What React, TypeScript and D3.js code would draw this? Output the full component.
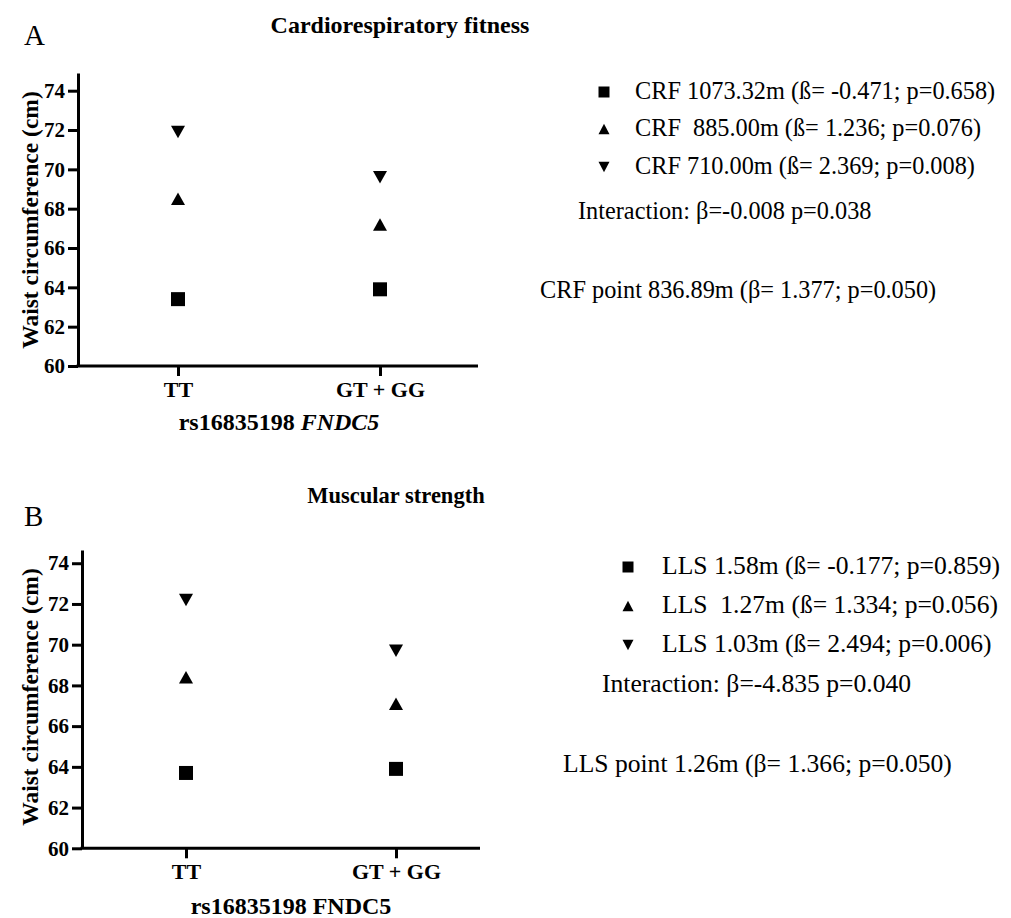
import React, { useEffect, useRef } from 'react'
import * as d3 from 'd3'

const width = 1011
const height = 918

const genotypes = ['TT', 'GT + GG']
const yTicks = [60, 62, 64, 66, 68, 70, 72, 74]
const shapes = ['square', 'up', 'down']

// panel A - cardiorespiratory fitness
const crfSquare = [63.4, 63.9]
const crfUp = [68.5, 67.2]
const crfDown = [71.9, 69.6]
const crfLegend = [
  'CRF 1073.32m (ß= -0.471; p=0.658)',
  'CRF  885.00m (ß= 1.236; p=0.076)',
  'CRF 710.00m (ß= 2.369; p=0.008)',
]
const crfInteraction = 'Interaction: β=-0.008 p=0.038'
const crfPoint = 'CRF point 836.89m (β= 1.377; p=0.050)'

// panel B - muscular strength
const llsSquare = [63.7, 63.9]
const llsUp = [68.4, 67.1]
const llsDown = [72.2, 69.7]
const llsLegend = [
  'LLS 1.58m (ß= -0.177; p=0.859)',
  'LLS  1.27m (ß= 1.334; p=0.056)',
  'LLS 1.03m (ß= 2.494; p=0.006)',
]
const llsInteraction = 'Interaction: β=-4.835 p=0.040'
const llsPoint = 'LLS point 1.26m (β= 1.366; p=0.050)'

const serif = '"Liberation Serif", "Times New Roman", serif'

const markerPath = (shape, w, h) => {
  const p = d3.path()
  const a = w / 2
  const b = h / 2
  if (shape === 'square') {
    p.rect(-a, -a, w, w)
  } else if (shape === 'up') {
    p.moveTo(0, -b); p.lineTo(a, b); p.lineTo(-a, b); p.closePath()
  } else {
    p.moveTo(-a, -b); p.lineTo(a, -b); p.lineTo(0, b); p.closePath()
  }
  return p.toString()
}

const Panel = ({ cfg }) => {
  const ref = useRef(null)

  useEffect(() => {
    const g = d3.select(ref.current)
    g.selectAll('*').remove()

    const yScale = d3.scaleLinear().domain([60, cfg.yMax]).range([cfg.y0, cfg.yTop])
    const xScale = d3.scalePoint().domain(genotypes).range([cfg.xTT, cfg.xGG])

    // y axis
    const yAxis = g.append('g')
      .attr('transform', `translate(${cfg.axisX},0)`)
      .call(d3.axisLeft(yScale).tickValues(yTicks).tickSize(10).tickPadding(3).tickSizeOuter(0))
    yAxis.select('.domain').attr('stroke-width', 3)
    yAxis.selectAll('.tick line').attr('stroke-width', 3)
    yAxis.selectAll('.tick text')
      .attr('font-family', serif).attr('font-weight', 'bold').attr('font-size', 21)
      .attr('fill', '#000')

    // x axis
    const xAxis = g.append('g')
      .attr('transform', `translate(0,${cfg.y0})`)
      .call(d3.axisBottom(xScale).tickSize(10).tickPadding(5).tickSizeOuter(0))
    xAxis.select('.domain').remove()
    xAxis.append('line')
      .attr('x1', cfg.axisX - 1.5).attr('x2', cfg.xRight)
      .attr('stroke', '#000').attr('stroke-width', 3)
    xAxis.selectAll('.tick line').attr('stroke-width', 3)
    xAxis.selectAll('.tick text')
      .attr('font-family', serif).attr('font-weight', 'bold').attr('font-size', 22)
      .attr('fill', '#000')

    // axis titles
    g.append('text')
      .attr('transform', `translate(${cfg.yTitleX},${(cfg.yTitleY)}) rotate(-90)`)
      .attr('text-anchor', 'middle').attr('dominant-baseline', 'central')
      .attr('font-family', serif).attr('font-weight', 'bold').attr('font-size', 23.5)
      .text('Waist circumference (cm)')

    const xt = g.append('text')
      .attr('x', (cfg.xTT + cfg.xGG) / 2).attr('y', cfg.xTitleY)
      .attr('text-anchor', 'middle')
      .attr('font-family', serif).attr('font-weight', 'bold').attr('font-size', 24)
    xt.append('tspan').text('rs16835198 ')
    xt.append('tspan').attr('font-style', cfg.italicGene ? 'italic' : 'normal').text('FNDC5')

    // markers
    cfg.series.forEach((vals, si) => {
      g.selectAll(null)
        .data(vals)
        .join('path')
        .attr('transform', (d, i) => `translate(${xScale(genotypes[i])},${yScale(d)})`)
        .attr('d', markerPath(shapes[si], 14, 12.5))
        .attr('fill', '#000')
    })

    // titles
    g.append('text')
      .attr('x', cfg.titleX).attr('y', cfg.titleY)
      .attr('text-anchor', 'middle')
      .attr('font-family', serif).attr('font-weight', 'bold').attr('font-size', cfg.titleSize)
      .text(cfg.title)
    g.append('text')
      .attr('x', 24).attr('y', cfg.letterY)
      .attr('font-family', serif).attr('font-size', 29)
      .text(cfg.letter)

    // legend
    cfg.legend.forEach((label, i) => {
      const y = cfg.legendY[i]
      g.append('path')
        .attr('transform', `translate(${cfg.legendMarkX},${y - 7})`)
        .attr('d', markerPath(shapes[i], 11, 10.5))
        .attr('fill', '#000')
      g.append('text')
        .attr('x', cfg.legendTextX).attr('y', y)
        .attr('font-family', serif).attr('font-size', cfg.legendSize)
        .style('white-space', 'pre')
        .text(label)
    })
    g.append('text')
      .attr('x', cfg.interX).attr('y', cfg.interY)
      .attr('font-family', serif).attr('font-size', cfg.legendSize)
      .text(cfg.interaction)
    g.append('text')
      .attr('x', cfg.pointX).attr('y', cfg.pointY)
      .attr('font-family', serif).attr('font-size', cfg.legendSize)
      .text(cfg.point)
  }, [cfg])

  return <g ref={ref} />
}

const panelA = {
  title: 'Cardiorespiratory fitness', titleX: 400, titleY: 33, titleSize: 24,
  letter: 'A', letterY: 45,
  axisX: 78, y0: 366, yTop: 73, yMax: 74.9, xRight: 478,
  xTT: 178, xGG: 380, xTitleY: 430, italicGene: true,
  yTitleX: 30, yTitleY: 220,
  series: [crfSquare, crfUp, crfDown],
  legend: crfLegend, legendSize: 24.3, legendMarkX: 604, legendTextX: 635, legendY: [99, 136, 174],
  interaction: crfInteraction, interX: 578, interY: 219,
  point: crfPoint, pointX: 540, pointY: 298,
}

const panelB = {
  title: 'Muscular strength', titleX: 396, titleY: 503, titleSize: 22.5,
  letter: 'B', letterY: 526,
  axisX: 82, y0: 848.3, yTop: 550, yMax: 74.65, xRight: 480,
  xTT: 186, xGG: 396, xTitleY: 914, italicGene: false,
  yTitleX: 30, yTitleY: 697,
  series: [llsSquare, llsUp, llsDown],
  legend: llsLegend, legendSize: 25.6, legendMarkX: 628, legendTextX: 662, legendY: [574, 613, 652],
  interaction: llsInteraction, interX: 602, interY: 692,
  point: llsPoint, pointX: 563, pointY: 772,
}

export default function App() {
  return (
    <svg width={width} height={height} style={{ position: 'absolute', left: 0, top: 0, background: '#fff' }}>
      <Panel cfg={panelA} />
      <Panel cfg={panelB} />
    </svg>
  )
}
